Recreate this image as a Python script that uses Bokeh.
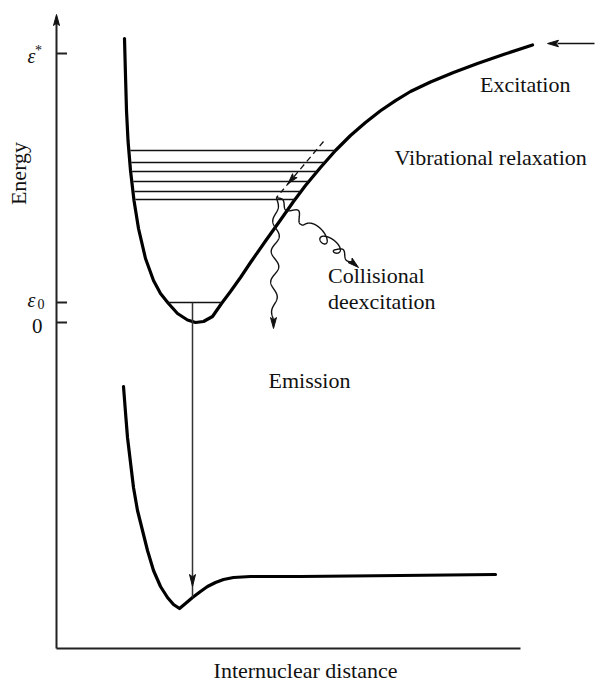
import numpy as np
from bokeh.plotting import figure
from bokeh.models import Range1d
from bokeh.core.properties import value
from bokeh.embed import file_html
from bokeh.resources import INLINE

# Excited electronic state: (internuclear distance, energy) samples
upper_r = [0.68, 0.69, 0.70, 0.715, 0.74, 0.775, 0.82, 0.89, 0.97, 1.04, 1.12, 1.21, 1.31,
           1.39, 1.47, 1.56, 1.65, 1.74, 1.84, 1.94, 2.09, 2.24, 2.37, 2.49, 2.64, 2.79,
           2.94, 3.09, 3.24, 3.39, 3.54, 3.74, 3.97, 4.21, 4.47, 4.76]
upper_E = [2.84, 2.47, 2.12, 1.82, 1.52, 1.22, 0.94, 0.64, 0.42, 0.29, 0.19, 0.09, 0.025,
           0.00, 0.01, 0.06, 0.19, 0.31, 0.45, 0.60, 0.815, 1.025, 1.21, 1.37, 1.55, 1.72,
           1.87, 2.00, 2.117, 2.219, 2.31, 2.405, 2.50, 2.59, 2.68, 2.775]
upper_min_index = 13

# Ground electronic state
lower_r = [0.67, 0.69, 0.71, 0.74, 0.77, 0.81, 0.86, 0.91, 0.97, 1.04, 1.11, 1.17, 1.23,
           1.29, 1.36, 1.44, 1.51, 1.59, 1.67, 1.77, 1.94, 2.44, 3.44, 4.39]
lower_E = [-0.64, -0.90, -1.15, -1.40, -1.65, -1.88, -2.08, -2.28, -2.48, -2.64, -2.75,
           -2.82, -2.86, -2.81, -2.75, -2.69, -2.64, -2.60, -2.57, -2.55, -2.54, -2.54,
           -2.53, -2.52]

# Vibrational levels of the excited state
vib_levels = [1.72, 1.60, 1.51, 1.41, 1.31, 1.23]

# Energy axis ticks
tick_values = [2.69, 0.20, 0.00]   # eps*, eps0, 0
eps_star, eps0, zero = tick_values

# Emission takes place at this distance, from eps0 down to the ground state
emission_r = 1.36
# Excitation energy reached on the excited curve
excitation_E = 2.79

# Relaxation / deexcitation pathways
relax_start = (2.67, 1.81)
relax_end = (2.20, 1.25)
emission_wiggle_end = (2.17, -0.06)
collision_wiggle_end = (3.02, 0.55)

# Axis extent
r_axis_end = 4.64
E_axis_bottom = -3.26
E_axis_top = 3.08

SERIF = value("Liberation Serif")
INK = "#111111"
AXIS = "#222222"

p = figure(width=610, height=682, output_backend="svg", toolbar_location=None,
           x_range=Range1d(-0.56, 5.54), y_range=Range1d(-3.60, 3.22),
           x_axis_type=None, y_axis_type=None, min_border=0,
           background_fill_color="white", border_fill_color="white")
p.outline_line_color = None
p.grid.visible = False

heads_x, heads_y = [], []


def add_head(tip_x, tip_y, dx, dy, length=0.11, width=0.07):
    n = np.hypot(dx, dy)
    ux, uy = dx / n, dy / n
    vx, vy = -uy, ux
    heads_x.append([tip_x,
                    tip_x - length * ux + width / 2 * vx,
                    tip_x - 0.8 * length * ux,
                    tip_x - length * ux - width / 2 * vx])
    heads_y.append([tip_y,
                    tip_y - length * uy + width / 2 * vy,
                    tip_y - 0.8 * length * uy,
                    tip_y - length * uy - width / 2 * vy])


def squiggle(start, end, cycles, amp, loop=0.0, loop_span=(0.0, 1.0), n=1200):
    """Wavy path from start to end; loop > 0 curls the wave into loops within loop_span."""
    (x0, y0), (x1, y1) = start, end
    L = np.hypot(x1 - x0, y1 - y0)
    ux, uy = (x1 - x0) / L, (y1 - y0) / L
    vx, vy = -uy, ux
    s = np.linspace(0, 1, n)
    th = 2 * np.pi * cycles * s
    taper = np.sin(np.pi * s) ** 0.4
    a, b = loop_span
    inside = (s > a) & (s < b)
    d = loop * np.where(inside, np.sin(np.pi * (s - a) / (b - a)), 0.0) ** 0.5
    along = L * s + d * (1 - np.cos(th))
    perp = amp * taper * np.sin(th)
    return x0 + along * ux + perp * vx, y0 + along * uy + perp * vy


# axes
p.line([0, 0], [E_axis_bottom, E_axis_top - 0.08], line_color=AXIS, line_width=2)
p.line([0, r_axis_end], [E_axis_bottom, E_axis_bottom], line_color=AXIS, line_width=2)
add_head(0, E_axis_top, 0, 1, length=0.11, width=0.06)
p.segment(x0=[0] * 3, y0=tick_values, x1=[0.105] * 3, y1=tick_values,
          line_color=AXIS, line_width=2)

# tick labels
p.text(x=[-0.29, -0.29], y=[eps_star - 0.02, eps0 + 0.03], text=["ε", "ε"],
       text_font=SERIF, text_font_style="italic", text_font_size="20px",
       text_baseline="alphabetic", text_color=INK)
p.text(x=[-0.215], y=[eps_star + 0.035], text=["*"], text_font=SERIF,
       text_font_size="14px", text_baseline="alphabetic", text_color=INK)
p.text(x=[-0.19], y=[eps0 - 0.01], text=["0"], text_font=SERIF,
       text_font_size="14px", text_baseline="alphabetic", text_color=INK)
p.text(x=[-0.245], y=[zero - 0.03], text=["0"], text_font=SERIF,
       text_font_size="21px", text_baseline="alphabetic", text_color=INK)

# potential curves
p.line(upper_r, upper_E, line_color="black", line_width=3.2, line_join="round", line_cap="round")
p.line(lower_r, lower_E, line_color="black", line_width=3.2, line_join="round", line_cap="round")

# vibrational levels, bounded by the two branches of the excited curve
left_r = np.array(upper_r[:upper_min_index + 1])[::-1]
left_E = np.array(upper_E[:upper_min_index + 1])[::-1]
right_r = np.array(upper_r[upper_min_index:])
right_E = np.array(upper_E[upper_min_index:])
lv = np.array(vib_levels)
p.segment(x0=np.interp(lv, left_E, left_r) + 0.015, y0=lv,
          x1=np.interp(lv, right_E, right_r), y1=lv,
          line_color=INK, line_width=1.6)
p.segment(x0=[np.interp(eps0, left_E, left_r)], y0=[eps0],
          x1=[np.interp(eps0, right_E, right_r)], y1=[eps0],
          line_color=INK, line_width=1.6)

# emission from eps0 to the ground state
ground_at_emission = np.interp(emission_r, lower_r, lower_E)
p.line([emission_r, emission_r], [eps0, ground_at_emission], line_color="#333333", line_width=1.5)
add_head(emission_r, ground_at_emission + 0.11, 0, -1, length=0.12, width=0.06)

# excitation arrow
p.line([5.38, upper_r[-1] + 0.25], [excitation_E, excitation_E], line_color=INK, line_width=1.6)
add_head(upper_r[-1] + 0.15, excitation_E, -1, 0, length=0.11, width=0.065)

# vibrational relaxation (dashed)
ddx, ddy = relax_end[0] - relax_start[0], relax_end[1] - relax_start[1]
head_tip = (relax_start[0] + 0.76 * ddx, relax_start[1] + 0.76 * ddy)
p.line([relax_start[0], head_tip[0]], [relax_start[1], head_tip[1]],
       line_color=INK, line_width=1.3, line_dash="6 4")
p.line([head_tip[0] - 0.04 * ddx, relax_end[0]], [head_tip[1] - 0.04 * ddy, relax_end[1]],
       line_color=INK, line_width=1.3, line_dash="5 4")
add_head(head_tip[0], head_tip[1], ddx, ddy, length=0.11, width=0.06)

# radiative emission wiggle
ex, ey = squiggle(relax_end, (emission_wiggle_end[0], emission_wiggle_end[1] + 0.08), 4, 0.04)
p.line(ex, ey, line_color=INK, line_width=1.4)
add_head(emission_wiggle_end[0], emission_wiggle_end[1], 0, -1, length=0.11, width=0.06)

# collisional deexcitation wiggle
cdx = collision_wiggle_end[0] - relax_end[0]
cdy = collision_wiggle_end[1] - relax_end[1]
cn = np.hypot(cdx, cdy)
c_stop = (collision_wiggle_end[0] - 0.08 * cdx / cn, collision_wiggle_end[1] - 0.08 * cdy / cn)
cx, cy = squiggle(relax_end, c_stop, 5, 0.05, loop=0.09, loop_span=(0.36, 0.78))
p.line(cx, cy, line_color=INK, line_width=1.4)
add_head(collision_wiggle_end[0], collision_wiggle_end[1], cdx, cdy, length=0.11, width=0.06)

p.patches(heads_x, heads_y, fill_color=INK, line_color=INK, line_width=1)

# annotations
label_kw = dict(text_font=SERIF, text_font_size="22px", text_baseline="alphabetic",
                text_color=INK)
p.text(x=[4.235, 3.38, 2.715, 2.715, 2.12],
       y=[2.385, 1.655, 0.475, 0.215, -0.575],
       text=["Excitation", "Vibrational relaxation", "Collisional", "deexcitation", "Emission"],
       **label_kw)
p.text(x=[2.49], y=[-3.475], text=["Internuclear distance"], text_align="center", **label_kw)
p.text(x=[-0.385], y=[1.49], text=["Energy"], angle=np.pi / 2, text_align="center", **label_kw)

open("out.html", "w").write(file_html(p, INLINE))
